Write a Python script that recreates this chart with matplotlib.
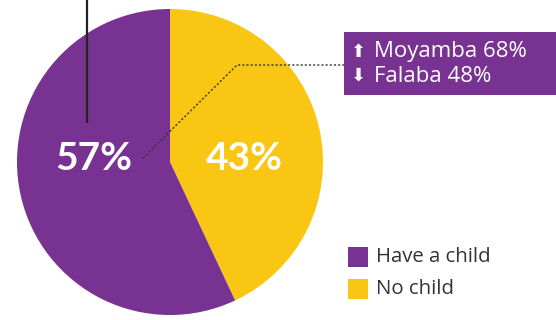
import matplotlib
matplotlib.use("Agg")
import matplotlib.pyplot as plt
from matplotlib.patches import Rectangle

categories = ["No child", "Have a child"]
values = [43, 57]
colors = ["#FAC614", "#783291"]
legend_labels = ["Have a child", "No child"]
box_lines = ["Moyamba 68%", "Falaba 48%"]
box_arrows = ["⬆", "⬇"]

plt.rcParams['font.family'] = ['Open Sans', 'DejaVu Sans']

fig = plt.figure(figsize=(5.56, 3.2), dpi=100)
ax = fig.add_axes([0, 0, 1, 1])

H = 320
cx, cy, r = 170, H - 162, 153
ax.pie(values, colors=colors, startangle=90, counterclock=False,
       center=(cx, cy), radius=r, frame=True,
       wedgeprops=dict(linewidth=0))
ax.set_xlim(0, 556)
ax.set_ylim(0, 320)
ax.set_aspect('equal')
ax.axis('off')

# percentage labels
ax.text(94, H - 158, f"{values[1]}%", color='white', fontsize=28, fontweight='bold',
        family=['Lato', 'DejaVu Sans'], ha='center', va='center')
ax.text(244, H - 158, f"{values[0]}%", color='white', fontsize=28, fontweight='bold',
        family=['Lato', 'DejaVu Sans'], ha='center', va='center')

# vertical line
ax.plot([87, 87], [H, H - 123], color='#222222', lw=1.6, solid_capstyle='butt')
# dotted connector
ax.plot([143, 237, 344], [H - 158, H - 65, H - 65], color='#333333', lw=1.0,
        linestyle=(0, (1.5, 1.5)))

# purple box
ax.add_patch(Rectangle((344, H - 95), 212, 63, facecolor='#783291', edgecolor='none'))
for i, (a, t) in enumerate(zip(box_arrows, box_lines)):
    y = H - 52 - i * 24
    ax.text(358, y, a, color='white', fontsize=13, family=['DejaVu Sans'],
            ha='center', va='center')
    ax.text(374, y, t, color='white', fontsize=16, ha='left', va='center')

# legend
leg_colors = [colors[1], colors[0]]
for i, (lab, c) in enumerate(zip(legend_labels, leg_colors)):
    y0 = H - 267 - i * 32
    ax.add_patch(Rectangle((348, y0), 20, 20, facecolor=c, edgecolor='none'))
    ax.text(376, y0 + 10, lab, color='#333333', fontsize=14.7, ha='left', va='center')

fig.savefig('out.png', dpi=100)
